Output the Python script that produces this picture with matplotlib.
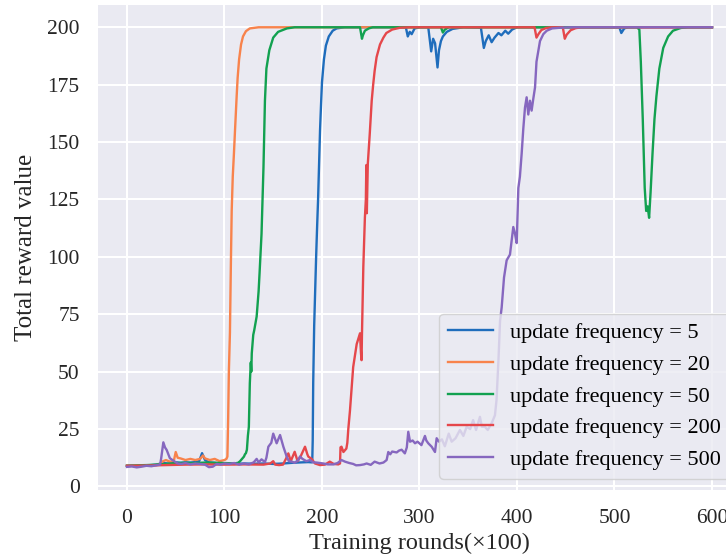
import matplotlib
matplotlib.use("Agg")
import matplotlib.pyplot as plt

plt.rcParams['font.family'] = ['Liberation Serif', 'DejaVu Serif']

labels = ["update frequency = 5", "update frequency = 20", "update frequency = 50",
          "update frequency = 200", "update frequency = 500"]
colors = ["#1f6dbc", "#f8834c", "#12a150", "#e5474b", "#8667bf"]

# update frequency = 5
x5 = [0, 5, 10, 15, 20, 25, 30, 35, 38, 42, 46, 50, 55, 60, 65, 70, 74, 77, 80, 84,
      90, 95, 100, 110, 120, 130, 140, 150, 160, 170, 180, 186, 189, 190, 190.5, 191, 192, 193, 194, 195,
      196, 197, 198, 199, 200, 202, 204, 207, 211, 215, 223, 286, 288, 290, 292, 295, 300, 309,
      312, 314, 316, 318.5, 320, 322, 324, 328, 334, 345, 363, 366, 368, 371, 374, 377, 381, 384,
      388, 391, 395, 400, 505, 507, 510, 514, 600]
y5 = [9, 9, 8.8, 9, 9.2, 9.3, 9.5, 10, 10.2, 10, 10.3, 10.5, 10.3, 10.5, 10.4, 10.6, 11, 14.5, 11.5, 10.5,
      10.3, 10, 10, 9.8, 10, 9.9, 10, 9.8, 10, 10.3, 10.5, 10.6, 10.5, 10.5, 20, 45, 70, 85, 100, 113,
      125, 140, 155, 166, 176, 186, 192, 196, 198.5, 199.5, 200, 200, 196, 198, 197, 199.5, 200, 200,
      189.5, 195, 193, 182.5, 190, 194, 196, 198, 199.3, 200, 199.8, 191, 194, 196.5, 193.5, 195.5, 197.5, 196.5,
      198.5, 197.2, 199, 200, 200, 197.5, 199.5, 200, 200]

# update frequency = 20
x20 = [0, 10, 20, 30, 35, 37, 40, 44, 48, 50, 52, 55, 60, 65, 70, 75, 78, 80, 85, 90,
       95, 100, 102, 103, 103.8, 104.5, 105.6, 106.5, 107.4, 108.5, 109.7, 110.8, 112.5, 113.5, 115, 117, 119, 122, 126, 135,
       600]
y20 = [9, 9, 9.2, 9.3, 10, 11, 11.5, 10.8, 11, 15, 12.5, 12.2, 11.5, 12, 11.5, 12, 13.5, 12.2, 11.5, 12,
       11, 11.5, 12, 13, 30, 50, 67, 95, 120, 135, 145, 155, 170, 178, 186, 192.5, 196, 198.3, 199.5, 200,
       200]

# update frequency = 50
x50 = [0, 10, 20, 30, 40, 50, 60, 70, 80, 90, 100, 110, 114, 116, 118, 120, 121, 122, 123, 124,
       125, 126, 127, 127.5, 128, 129.5, 130.5, 133, 135, 136, 138, 140, 141.5, 143, 146, 150, 155, 164, 172, 239,
       241, 242, 244, 248, 252, 322, 324, 326, 330, 523, 525.5, 527, 529, 531, 532.5, 534, 535.5, 537, 539, 541,
       543, 546, 550, 555, 560, 568, 575, 600]
y50 = [9, 9.2, 9.3, 9.5, 9.8, 10.2, 10.3, 10.2, 10.4, 10.3, 10.2, 10, 10.3, 11, 12, 13, 14, 14.5, 16, 22,
       26, 45, 54, 50, 58, 66, 68, 74, 85, 93, 110, 139, 168, 182, 190, 195.5, 198, 199.5, 200, 200,
       195, 196.5, 198.5, 199.5, 200, 200, 197.7, 199, 200, 200, 199, 185, 160, 130, 120, 122, 117, 128, 145, 160,
       170, 182, 191, 196, 198.5, 199.7, 200, 200]

# update frequency = 200
x200 = [0, 20, 40, 60, 80, 100, 120, 140, 147, 150, 152, 156, 160, 163, 165.5, 168, 172, 175, 178, 182.6,
        185, 186, 189.4, 192.8, 198, 203, 208, 212, 216.7, 218.5, 219, 220, 222, 225, 226, 227, 228.7, 232, 235.6, 239,
        240, 240.6, 241, 242.4, 244, 245, 245.5, 246, 246.5, 247, 249, 251, 252.5, 254, 256, 259.5, 263, 266, 272, 280,
        290, 418, 420, 422, 425, 430, 435, 447, 449, 451, 455, 460, 466, 600]
y200 = [9, 9.1, 9.3, 9.5, 9.6, 9.5, 9.6, 9.5, 10, 11, 9.5, 9.3, 9.5, 12, 14.4, 11, 15.1, 11, 13, 17.3,
        14, 13, 12, 10, 9.3, 9.5, 10.8, 9.8, 9.6, 10, 17, 17.3, 15, 16.5, 19, 25, 33, 52, 62, 66.7,
        58, 55, 66, 95.6, 117, 125, 140, 119, 130, 140.5, 153.6, 168, 175, 181, 187, 192.5, 195.5, 197.5, 199, 199.8,
        200, 200, 195.5, 197, 198.8, 199.7, 200, 200, 195, 196.8, 198.7, 199.6, 200, 200]

# update frequency = 500
x500 = [0, 5, 10, 15, 20, 25, 30, 34, 35, 37.3, 39, 40.7, 44, 49, 52, 56, 60, 65, 70, 75,
        80, 84, 88, 92, 96, 100, 105, 110, 115, 120, 125, 130, 133, 135, 138, 141.5, 143, 145, 148, 150,
        153.5, 157, 160.4, 163.8, 166, 169, 172, 175.7, 177.4, 180, 184, 187.7, 191, 194.5, 201.4, 206, 211.6, 216, 220, 223.6,
        228, 232, 235, 239, 243, 245.8, 250, 254, 259, 263, 266.3, 268, 270, 272, 276.6, 279, 281.7, 285, 287, 288.5,
        290.3, 293, 295.4, 298, 302, 305.6, 307, 309, 312.5, 315.9, 317.6, 320, 323, 326, 330, 333, 337, 341.5, 345, 348.4,
        352, 355, 358, 362, 364, 367, 370, 374, 377.4, 379, 381, 382.6, 384.3, 386.7, 389.4, 392.8, 396.2, 398, 399.7, 401.4,
        403, 404.8, 406.5, 408.2, 409.9, 411.6, 413.3, 415, 416.7, 418.5, 420, 423.6, 427, 430.5, 436, 444, 455, 600]
y500 = [8.5, 8.7, 8.3, 8.6, 9, 8.8, 9.2, 9.5, 12, 19.2, 17, 15.9, 12.3, 10.8, 10, 9.8, 10.2, 9.6, 10, 9.8,
        9.5, 8.4, 8.6, 9.8, 9.5, 10, 9.8, 10.2, 9.5, 10, 9.6, 10.5, 12, 10.5, 11.8, 10.6, 12.5, 17.3, 19, 23,
        18.8, 22.4, 17.3, 13, 11, 10.8, 10.3, 11.5, 13, 12, 11, 11.5, 10.5, 10.4, 10, 9.6, 9.6, 10.2, 11.5, 10.8,
        10.2, 9.8, 9.2, 9.3, 9.6, 10, 9.4, 10.8, 10, 10.4, 11.5, 15, 14, 15.2, 14.8, 15.6, 16, 14.4, 17, 23.8,
        19.5, 20, 18.8, 19.5, 18, 22, 20, 18.8, 17.3, 15, 21, 19.5, 20.5, 17.5, 23, 19.5, 21, 24.6, 22, 26,
        25, 28.9, 24.6, 30.3, 26, 26, 24.6, 27.5, 31, 37.6, 55, 72, 78, 91, 98.5, 101, 113, 110, 106, 130,
        135, 145, 156, 165, 169.5, 162, 168, 163.7, 168.8, 173.8, 185, 194, 197, 198.5, 199.5, 199.8, 200, 200]

xs = [x5, x20, x50, x200, x500]
ys = [y5, y20, y50, y200, y500]

fig = plt.figure(figsize=(7.26, 5.57), dpi=100)
ax = fig.add_axes([0.1346, 0.1205, 0.8864, 0.8697])
ax.set_facecolor("#EAEAF2")
for s in ax.spines.values():
    s.set_visible(False)
ax.grid(True, color="white", linewidth=1.5)
ax.set_axisbelow(True)

for x, y, c, lab in zip(xs, ys, colors, labels):
    ax.plot(x, y, color=c, linewidth=1.7, label=lab)

ax.set_xlim(-30, 630)
ax.set_ylim(-1.5, 209.5)
ax.set_xticks([0, 100, 200, 300, 400, 500, 600])
ax.set_yticks([0, 25, 50, 75, 100, 125, 150, 175, 200])
ax.tick_params(axis="both", length=0, labelsize=15.5, colors="#262626")
ax.tick_params(axis="x", pad=14)
ax.tick_params(axis="y", pad=13)

ax.set_xlabel("Training rounds(×100)", fontsize=17.5, color="#262626", labelpad=3)
ax.set_ylabel("Total reward value", fontsize=18, color="#262626", labelpad=7)

leg = ax.legend(loc="lower right", fontsize=16, frameon=True, fancybox=True,
                facecolor="#EAEAF2", edgecolor="#CCCCCC", framealpha=0.8,
                labelspacing=0.5)

plt.savefig("out.png", dpi=100)
